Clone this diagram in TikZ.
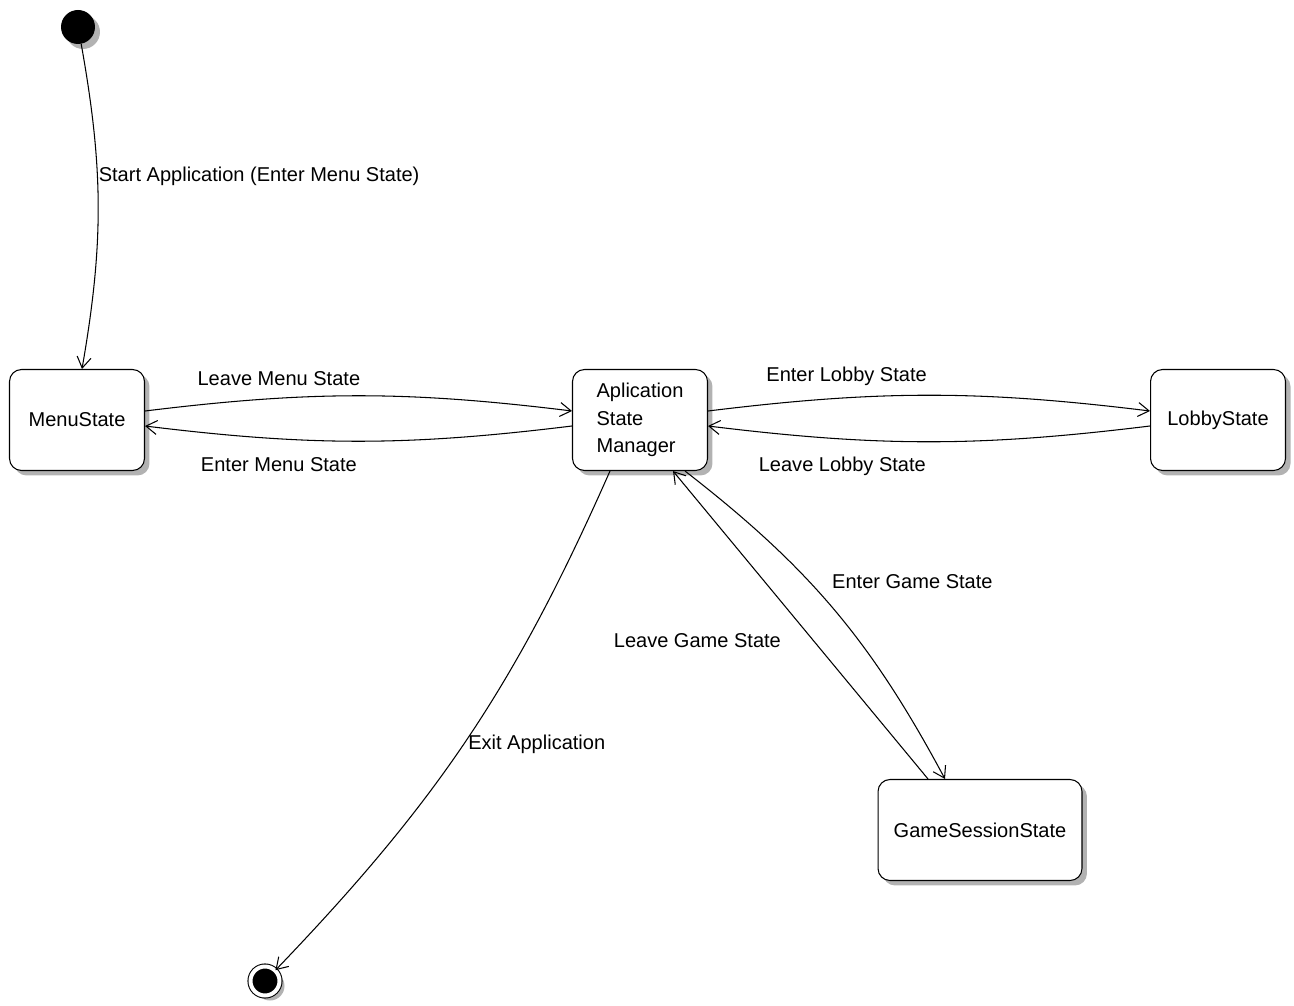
\documentclass[tikz,border=0pt]{standalone}
\usepackage{fontspec}
\setmainfont{Liberation Sans}
\usetikzlibrary{arrows.meta,shadows}

\begin{document}
\begin{tikzpicture}[x=0.02cm, y=-0.02cm,
state/.style={draw, line width=0.6pt, rounded corners=0.24cm, fill=white,
  minimum width=2.7cm, minimum height=2.02cm,
  drop shadow={shadow xshift=0.1cm, shadow yshift=-0.1cm, fill=black!30, opacity=1},
  font=\fontsize{11.4}{15.6}\selectfont},
initial/.style={circle, fill=black, minimum size=0.68cm, inner sep=0pt,
  drop shadow={shadow xshift=0.1cm, shadow yshift=-0.1cm, fill=black!30, opacity=1}},
final/.style={circle, draw, line width=0.6pt, fill=black, minimum size=0.58cm, inner sep=0pt,
  double=white, double distance=0.08cm,
  drop shadow={shadow xshift=0.1cm, shadow yshift=-0.1cm, fill=black!30, opacity=1}},
trans/.style={line width=0.6pt, -{Straight Barb[length=0.22cm,width=0.28cm]}},
lbl/.style={font=\fontsize{11.4}{15.6}\selectfont}]
\useasboundingbox (0,0) rectangle (1294,1006);

% states
\node[initial] (init) at (78,27) {};
\node[state] (menu) at (77,420) {MenuState};
\node[state, align=left] (asm) at (640,420) {Aplication\\State\\Manager};
\node[state] (lobby) at (1218,420) {LobbyState};
\node[state, minimum width=4.08cm] (game) at (980,830) {GameSessionState};
\node[final] (end) at (265,981) {};

% transitions
\draw[trans] (init) to[bend left=10] node[lbl, pos=0.4, right, xshift=-0.1cm] {Start Application (Enter Menu State)} ([xshift=0.1cm]menu.north);
\draw[trans] ([yshift=0.18cm]menu.east) to[bend left=7] node[lbl, pos=0.3, above=0.12cm] {Leave Menu State} ([yshift=0.18cm]asm.west);
\draw[trans] ([yshift=-0.12cm]asm.west) to[bend left=7] node[lbl, pos=0.7, below=0.24cm] {Enter Menu State} ([yshift=-0.12cm]menu.east);
\draw[trans] ([yshift=0.18cm]asm.east) to[bend left=7] node[lbl, pos=0.3, above=0.12cm] {Enter Lobby State} ([yshift=0.18cm]lobby.west);
\draw[trans] ([yshift=-0.12cm]lobby.west) to[bend left=7] node[lbl, pos=0.71, below=0.24cm] {Leave Lobby State} ([yshift=-0.12cm]asm.east);
\draw[trans] ([xshift=0.9cm]asm.south) to[bend left=12] node[lbl, pos=0.4, right=0.34cm] {Enter Game State} ([xshift=-0.7cm]game.north);
\draw[trans] ([xshift=-1.04cm]game.north) -- node[lbl, pos=0.45, left=0.52cm] {Leave Game State} ([xshift=0.66cm]asm.south);
\draw[trans] ([xshift=-0.6cm]asm.south) to[bend left=10] node[lbl, pos=0.52, right, yshift=0.06cm] {Exit Application} (end);
\end{tikzpicture}
\end{document}
